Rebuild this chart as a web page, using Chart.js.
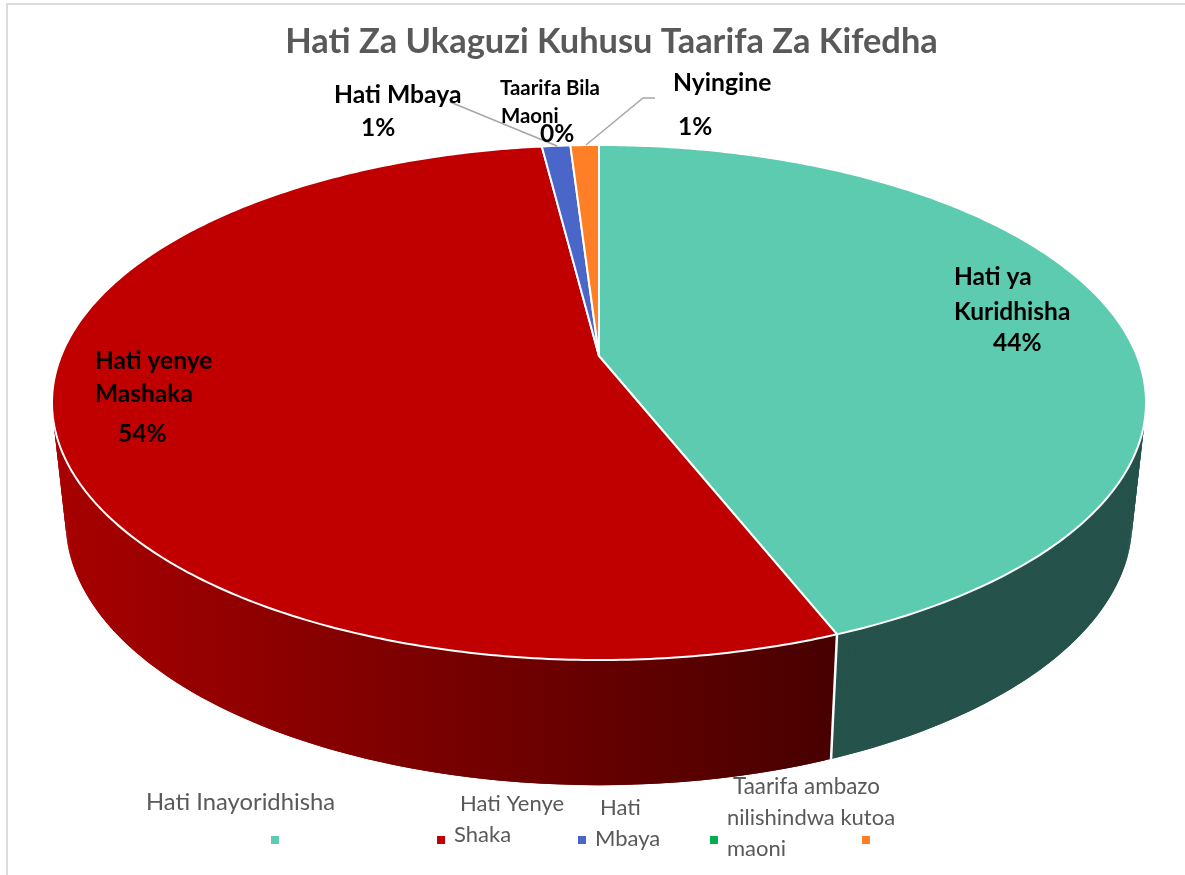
<!DOCTYPE html>
<html><head><meta charset="utf-8">
<style>html,body{margin:0;padding:0;background:#fff}canvas{display:block}</style>
<script src="https://cdn.jsdelivr.net/npm/chart.js@4"></script>
</head><body>
<div style="width:1185px;height:875px"><canvas id="c" width="1185" height="875"></canvas></div>
<script>
// ---- data ----
const categories = ["Hati Inayoridhisha","Hati Yenye Shaka","Hati Mbaya","Taarifa ambazo nilishindwa kutoa maoni","Nyingine"];
const values = [44,54,1,0,1];
const sliceColors = ["#5ccbaf","#c00000","#4a66c8","#00b050","#ff7f27"];
const chartTitle = "Hati Za Ukaguzi Kuhusu Taarifa Za Kifedha";

// ---- layout of texts (positions only) ----
const dataLabels = [
  {t:"Hati ya",x:954,y:277,s:24.5},{t:"Kuridhisha",x:954,y:312,s:24.5},{t:"44%",x:993,y:343,s:24.5},
  {t:"Hati yenye",x:95,y:361,s:24.5},{t:"Mashaka",x:95,y:394,s:24.5},{t:"54%",x:118,y:434,s:24.5},
  {t:"Hati Mbaya",x:334,y:95,s:24.7},{t:"1%",x:361,y:128,s:24.5},
  {t:"Taarifa Bila",x:500,y:88,s:20.4},{t:"Maoni",x:501,y:116,s:20.4},{t:"0%",x:540,y:134,s:24.5},
  {t:"Nyingine",x:673,y:83,s:24.7},{t:"1%",x:678,y:127,s:24.5}
];
const legendTexts = [
  {t:"Hati Inayoridhisha",x:146,y:802,s:23.8},
  {t:"Hati Yenye",x:460,y:804,s:22},{t:"Shaka",x:454,y:835,s:22},
  {t:"Hati",x:600,y:808,s:22},{t:"Mbaya",x:595,y:839,s:22},
  {t:"Taarifa ambazo",x:733,y:787,s:22.4},{t:"nilishindwa kutoa",x:727,y:818,s:22},{t:"maoni",x:727,y:849,s:22}
];
const legendMarkerX = [275,441,582,714,866];
const leaders = [[[450,102],[557,146]],[[655,98],[643,98],[586,145]]];

// ---- 3D perspective of the disc ----
const P = {x0:599,A:538,k:0.1806,yTop:356,bTop:249.1,xB:599,aBot:524.5,yBot:474,bBot:255};
function rimTop(th){const u=Math.cos(th),v=Math.sin(th),d=1-P.k*v;return [P.x0+P.A*u/d,P.yTop+P.bTop*v/d];}
function rimBot(th){const u=Math.cos(th),v=Math.sin(th),d=1-P.k*v;return [P.xB+P.aBot*u/d,P.yBot+P.bBot*v/d];}

function wallStyle(ctx,i){
  if(i===1){
    const g=ctx.createLinearGradient(55,0,835,0);
    g.addColorStop(0,"#a80000");g.addColorStop(1,"#480000");return g;
  }
  if(i===0) return "#25524a";
  return i===2?"#2c3d78":"#994c17";
}
// top face of each slice: library arc element angles through the perspective
Chart.ArcElement.prototype.draw=function(ctx){
  const s=this.startAngle,e=this.endAngle;
  if(!(e-s>0))return;
  const col=this.options.backgroundColor;
  ctx.save();
  ctx.beginPath();
  ctx.moveTo(P.x0,P.yTop);
  const n=Math.max(4,Math.ceil((e-s)*90));
  for(let j=0;j<=n;j++){const p=rimTop(s+(e-s)*j/n);ctx.lineTo(p[0],p[1]);}
  ctx.closePath();
  ctx.fillStyle=col;ctx.fill();
  ctx.strokeStyle="#fff";ctx.lineWidth=2;ctx.lineJoin="round";ctx.stroke();
  ctx.restore();
};

const wallPlugin={id:"wall",beforeDatasetsDraw(chart){
  const ctx=chart.ctx,arcs=chart.getDatasetMeta(0).data;
  // thin grey frame at the top and left
  ctx.save();ctx.fillStyle="#dcdcdc";ctx.fillRect(6,3,1179,2);ctx.fillRect(6,3,2,872);
  arcs.forEach((a,i)=>{
    const s=a.startAngle,e=a.endAngle;
    if(!(e-s>0))return;
    ctx.fillStyle=wallStyle(ctx,i);
    const n=Math.ceil((e-s)*90),dt=(e-s)/n;
    // overlapping opaque quads leave no antialiasing seams
    for(let j=0;j<n;j++){
      const t0=s+dt*j,t1=Math.min(e,s+dt*(j+2));
      const a0=rimTop(t0),a1=rimTop(t1),b1=rimBot(t1),b0=rimBot(t0);
      ctx.beginPath();ctx.moveTo(a0[0],a0[1]);ctx.lineTo(a1[0],a1[1]);ctx.lineTo(b1[0],b1[1]);ctx.lineTo(b0[0],b0[1]);ctx.closePath();
      ctx.fill();
    }
  });
  // white seams at the visible slice edges
  ctx.strokeStyle="#fff";ctx.lineWidth=2.5;
  arcs.forEach(a=>{
    const e=a.endAngle;
    if(a.endAngle-a.startAngle>0&&Math.sin(e)>0.2){
      const p=rimTop(e),q=rimBot(e);
      ctx.beginPath();ctx.moveTo(p[0],p[1]);ctx.lineTo(q[0],q[1]);ctx.stroke();
    }
  });
  ctx.restore();
}};

const textPlugin={id:"texts",afterDatasetsDraw(chart){
  const ctx=chart.ctx;
  ctx.save();
  ctx.textBaseline="middle";ctx.textAlign="left";
  ctx.strokeStyle="#a6a6a6";ctx.lineWidth=1.5;
  leaders.forEach(l=>{ctx.beginPath();l.forEach((p,i)=>i?ctx.lineTo(p[0],p[1]):ctx.moveTo(p[0],p[1]));ctx.stroke();});
  ctx.fillStyle="#000";
  dataLabels.forEach(d=>{ctx.font="bold "+d.s+"px Lato";ctx.fillText(d.t,d.x,d.y);});
  ctx.fillStyle="#595959";
  legendTexts.forEach(d=>{ctx.font=d.s+"px Lato";ctx.fillText(d.t,d.x,d.y);});
  legendMarkerX.forEach((x,i)=>{ctx.fillStyle=sliceColors[i];ctx.fillRect(x-4,836,8,8);});
  ctx.restore();
}};

new Chart(document.getElementById("c"),{
  type:"pie",
  data:{labels:categories,datasets:[{data:values,backgroundColor:sliceColors,borderWidth:0}]},
  plugins:[wallPlugin,textPlugin],
  options:{
    responsive:false,animation:false,
    layout:{padding:{left:38}},
    plugins:{
      legend:{display:false},tooltip:{enabled:false},
      title:{display:true,text:chartTitle,color:"#595959",font:{family:"Lato",size:34.4,weight:"bold"},padding:{top:21,bottom:4}}
    }
  }
});
</script>
</body></html>
